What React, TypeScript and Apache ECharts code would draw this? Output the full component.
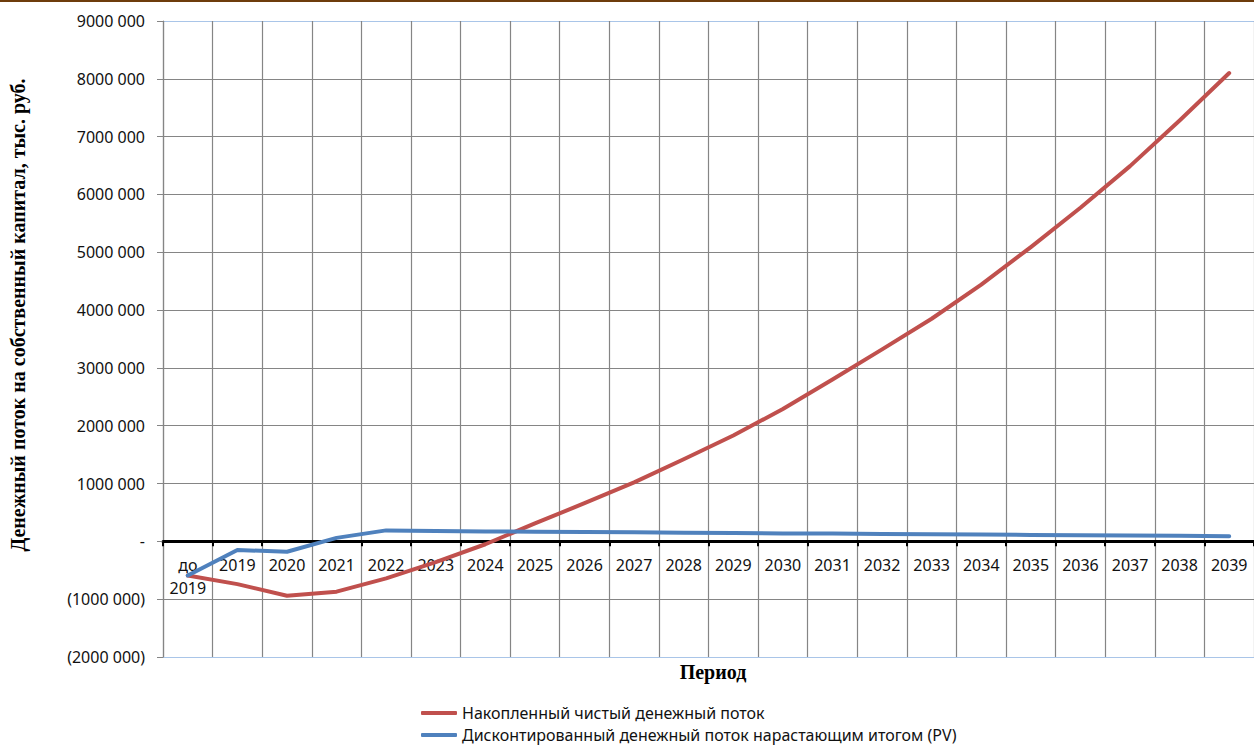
import React, { useEffect, useRef } from "react";
import * as echarts from "echarts";

const categories = [
  "до\n2019", "2019", "2020", "2021", "2022", "2023", "2024", "2025", "2026", "2027", "2028",
  "2029", "2030", "2031", "2032", "2033", "2034", "2035", "2036", "2037", "2038", "2039",
];

const netCumulative = [
  -590000, -740000, -940000, -870000, -640000, -360000, -50000, 310000, 660000, 1020000, 1420000,
  1830000, 2290000, 2800000, 3320000, 3850000, 4440000, 5090000, 5770000, 6490000, 7280000, 8100000,
];

const discountedCumulative = [
  -590000, -150000, -180000, 60000, 190000, 180000, 172000, 166000, 162000, 158000, 150000,
  146000, 138000, 134000, 128000, 122000, 118000, 112000, 106000, 102000, 98000, 88000,
];

const seriesNames = [
  "Накопленный чистый денежный поток",
  "Дисконтированный денежный поток нарастающим итогом (PV)",
];

const yAxisTitle = "Денежный поток на собственный капитал, тыс. руб.";
const xAxisTitle = "Период";

const formatY = (v: number) => {
  if (v === 0) return "-";
  const a = Math.abs(v);
  const th = Math.floor(a / 1000);
  const rest = String(a % 1000).padStart(3, "0");
  const s = `${th} ${rest}`;
  return v < 0 ? `(${s})` : s;
};

export default function App() {
  const ref = useRef<HTMLDivElement>(null);
  useEffect(() => {
    document.body.style.margin = "0";
    if (!ref.current) return;
    const chart = echarts.init(ref.current, undefined, { renderer: "svg" });
    const font = "'Noto Sans', sans-serif";
    const grey = "#858585";
    const splitColors = [
      "#a9c5e8", grey, grey, grey, grey, grey, grey, grey, grey, grey, grey, "#a9c5e8",
    ];
    const gridTop = 21;
    const gridBottomPx = 657;
    const yMin = -2000000;
    const yMax = 9000000;
    const zeroPx = gridTop + ((yMax - 0) / (yMax - yMin)) * (gridBottomPx - gridTop);
    chart.setOption({
      animation: false,
      backgroundColor: "#ffffff",
      grid: { left: 163, right: -9, top: gridTop, bottom: 745 - gridBottomPx, containLabel: false },
      legend: {
        orient: "vertical",
        left: 421,
        top: 705,
        padding: 0,
        width: 800,
        height: 45,
        itemWidth: 36,
        itemHeight: 4,
        itemGap: 6,
        icon: "roundRect",
        textStyle: { fontFamily: font, fontSize: 16, color: "#111", lineHeight: 16 },
        data: seriesNames,
      },
      xAxis: {
        type: "category",
        data: categories,
        boundaryGap: true,
        position: "bottom",
        offset: zeroPx - gridBottomPx,
        axisLine: { onZero: false, lineStyle: { color: "#000", width: 3 } },
        axisTick: { show: true, length: 5, lineStyle: { color: "#000", width: 2 } },
        axisLabel: {
          interval: 0,
          color: "#111",
          fontFamily: font,
          fontSize: 16,
          lineHeight: 23,
          margin: 12,
        },
        splitLine: { show: true, lineStyle: { color: grey, width: 1.2 } },
      },
      yAxis: {
        type: "value",
        min: yMin,
        max: yMax,
        interval: 1000000,
        axisLine: { show: true, lineStyle: { color: grey, width: 1.2 } },
        axisTick: { show: true, length: 6, lineStyle: { color: grey } },
        axisLabel: {
          formatter: formatY,
          color: "#111",
          fontFamily: font,
          fontSize: 16,
          margin: 18,
        },
        splitLine: { show: true, lineStyle: { color: splitColors, width: 1.2 } },
      },
      graphic: [
        {
          type: "rect",
          shape: { x: 0, y: 0, width: 1254, height: 2 },
          style: { fill: "#6e3c0c" },
        },
        {
          type: "text",
          x: 18,
          y: 315,
          rotation: Math.PI / 2,
          style: {
            text: yAxisTitle,
            fontFamily: "'Liberation Serif', serif",
            fontWeight: "bold",
            fontSize: 20,
            fill: "#000",
            align: "center",
            verticalAlign: "middle",
          },
        },
        {
          type: "text",
          x: 713,
          y: 672,
          style: {
            text: xAxisTitle,
            fontFamily: "'Liberation Serif', serif",
            fontWeight: "bold",
            fontSize: 20,
            fill: "#000",
            align: "center",
            verticalAlign: "middle",
          },
        },
      ],
      series: [
        {
          name: seriesNames[0],
          type: "line",
          data: netCumulative,
          symbol: "none",
          lineStyle: { color: "#c0504d", width: 4, cap: "round", join: "round" },
          itemStyle: { color: "#c0504d" },
        },
        {
          name: seriesNames[1],
          type: "line",
          data: discountedCumulative,
          symbol: "none",
          lineStyle: { color: "#4f81bd", width: 4, cap: "round", join: "round" },
          itemStyle: { color: "#4f81bd" },
        },
      ],
    });
    return () => chart.dispose();
  }, []);
  return (
    <div style={{ width: 1254, height: 745, overflow: "hidden" }}>
      <div ref={ref} style={{ width: 1254, height: 745 }} />
    </div>
  );
}
